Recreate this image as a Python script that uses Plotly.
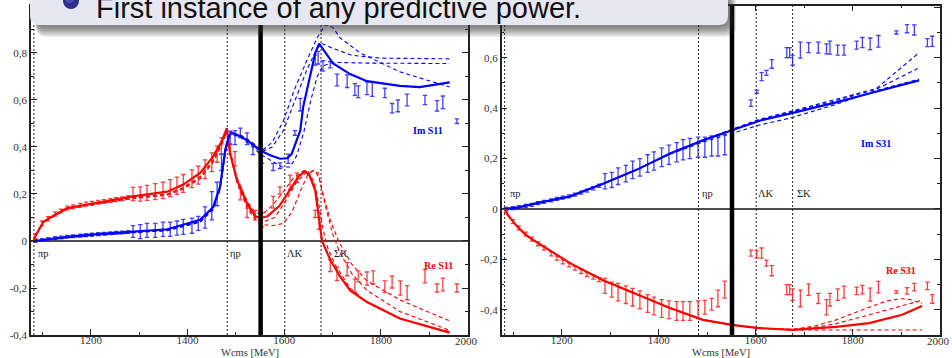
import plotly.graph_objects as go

W_FIG, H_FIG = 952, 358
X_RANGE = [1076, 1980]
Y_RANGE_S11 = [-0.4, 1.002]
Y_RANGE_S31 = [-0.5, 0.807]

THRESH_W = [1082, 1482, 1601, 1676]
THRESH_LABELS = ["πp", "ηp", "ΛK", "ΣK"]
MARK_W = 1551

X_TICKS = [1200, 1400, 1600, 1800]
X_TICKTEXT = ["1200", "1400", "1600", "1800"]
X_MINOR = [1100, 1300, 1500, 1700, 1900]
Y11_TICKS = [-0.4, -0.2, 0, 0.2, 0.4, 0.6, 0.8, 1.0]
Y11_TICKTEXT = ["-0,4", "-0,2", "0", "0,2", "0,4", "0,6", "0,8", "1"]
Y11_MINOR = [-0.3, -0.1, 0.1, 0.3, 0.5, 0.7, 0.9]
Y31_TICKS = [-0.4, -0.2, 0, 0.2, 0.4, 0.6, 0.8]
Y31_TICKTEXT = ["-0,4", "-0,2", "0", "0,2", "0,4", "0,6", ""]
Y31_MINOR = [-0.3, -0.1, 0.1, 0.3, 0.5, 0.7]

# ---------------- S11 : Re ----------------
re11_fit_w = [1082, 1101, 1116, 1151, 1219, 1287, 1358, 1391, 1426, 1453, 1472, 1481, 1488, 1502, 1523, 1540,
              1550, 1565, 1590, 1612, 1630, 1643, 1652, 1664, 1674, 1678, 1695, 1715, 1736, 1771, 1839, 1907, 1942]
re11_fit_v = [0.01, 0.08, 0.10, 0.14, 0.165, 0.19, 0.21, 0.24, 0.29, 0.36, 0.43, 0.48, 0.37, 0.26, 0.16, 0.105,
              0.097, 0.105, 0.15, 0.216, 0.275, 0.297, 0.28, 0.216, 0.076, 0.0, -0.08, -0.15, -0.21, -0.26, -0.33, -0.37, -0.39]

re11_dA_w = [1082, 1101, 1116, 1151, 1219, 1287, 1358, 1391, 1426, 1453, 1472, 1481, 1488, 1502, 1523, 1540, 1555,
             1575, 1598, 1620, 1640, 1650, 1662, 1672, 1680, 1690, 1705, 1736, 1771, 1839, 1907, 1942]
re11_dA_v = [0.01, 0.078, 0.098, 0.137, 0.162, 0.183, 0.198, 0.225, 0.27, 0.34, 0.42, 0.47, 0.38, 0.27, 0.17, 0.12, 0.115,
             0.15, 0.21, 0.27, 0.30, 0.295, 0.25, 0.15, 0.05, -0.03, -0.10, -0.20, -0.26, -0.33, -0.37, -0.385]
re11_dB_w = [1082, 1101, 1116, 1151, 1219, 1287, 1358, 1391, 1426, 1453, 1472, 1481, 1488, 1502, 1523, 1540, 1555,
             1575, 1598, 1615, 1635, 1648, 1660, 1670, 1680, 1695, 1712, 1740, 1771, 1839, 1907, 1942]
re11_dB_v = [0.01, 0.078, 0.097, 0.136, 0.16, 0.18, 0.195, 0.22, 0.265, 0.335, 0.415, 0.465, 0.37, 0.25, 0.14, 0.09, 0.07,
             0.065, 0.075, 0.12, 0.22, 0.28, 0.30, 0.29, 0.20, 0.09, 0.0, -0.10, -0.17, -0.25, -0.31, -0.34]
re11_dC_w = [1082, 1101, 1116, 1151, 1219, 1287, 1358, 1391, 1426, 1453, 1472, 1481, 1488, 1502, 1523, 1540, 1555,
             1580, 1600, 1625, 1645, 1662, 1672, 1685, 1700, 1715, 1740, 1771, 1839, 1907, 1942]
re11_dC_v = [0.01, 0.079, 0.099, 0.138, 0.163, 0.185, 0.2, 0.228, 0.275, 0.345, 0.425, 0.472, 0.375, 0.26, 0.15, 0.1, 0.08,
             0.10, 0.16, 0.25, 0.29, 0.30, 0.27, 0.15, 0.03, -0.05, -0.14, -0.21, -0.30, -0.355, -0.38]

re11_dat_w = [1085, 1099, 1111, 1126, 1138, 1151, 1163, 1178, 1190, 1202, 1215, 1227, 1240, 1252, 1265, 1277,
              1287, 1302, 1316, 1333, 1349, 1364, 1378, 1391, 1409, 1422, 1436, 1450, 1461, 1470, 1488,
              1498, 1509, 1523, 1540, 1554, 1577, 1591, 1612, 1626, 1664, 1672,
              1695, 1709, 1730, 1746, 1753, 1771, 1784, 1808, 1823, 1840, 1854, 1891, 1916, 1928, 1957]
re11_dat_v = [0.02, 0.075, 0.095, 0.115, 0.128, 0.14, 0.146, 0.152, 0.157, 0.16, 0.165, 0.168, 0.172, 0.176, 0.18, 0.185,
              0.20, 0.20, 0.205, 0.21, 0.215, 0.225, 0.235, 0.245, 0.265, 0.28, 0.305, 0.335, 0.37, 0.405, 0.39,
              0.35, 0.2, 0.12, 0.11, 0.09, 0.165, 0.215, 0.25, 0.27, 0.115, 0.075,
              -0.105, -0.14, -0.12, -0.19, -0.15, -0.16, -0.155, -0.195, -0.175, -0.2, -0.22, -0.15, -0.2, -0.185, -0.2]
re11_dat_e = [0.01, 0.01, 0.009, 0.009, 0.008, 0.008, 0.008, 0.008, 0.008, 0.008, 0.008, 0.008, 0.008, 0.008, 0.008, 0.008,
              0.028, 0.03, 0.032, 0.034, 0.035, 0.036, 0.037, 0.038, 0.038, 0.038, 0.04, 0.04, 0.035, 0.035, 0.02,
              0.03, 0.025, 0.02, 0.02, 0.03, 0.025, 0.015, 0.03, 0.02, 0.015, 0.025,
              0.025, 0.028, 0.028, 0.028, 0.023, 0.028, 0.028, 0.025, 0.025, 0.03, 0.03, 0.028, 0.017, 0.027, 0.017]

# ---------------- S11 : Im ----------------
im11_fit_w = [1082, 1120, 1160, 1220, 1287, 1358, 1426, 1453, 1467, 1478, 1486, 1491, 1510, 1529, 1550, 1571, 1591,
              1606, 1615, 1626, 1633, 1639, 1653, 1664, 1672, 1688, 1701, 1736, 1771, 1839, 1880, 1942]
im11_fit_v = [0.0, 0.01, 0.02, 0.03, 0.04, 0.05, 0.09, 0.145, 0.23, 0.39, 0.45, 0.46, 0.445, 0.42, 0.385, 0.365, 0.35,
              0.352, 0.37, 0.43, 0.47, 0.57, 0.695, 0.8, 0.84, 0.79, 0.755, 0.71, 0.68, 0.66, 0.655, 0.675]

im11_d1_w = [1082, 1160, 1287, 1358, 1426, 1453, 1467, 1478, 1486, 1491, 1510, 1529, 1554, 1575, 1598, 1620, 1647,
             1668, 1685, 1700, 1715, 1757, 1839, 1942]
im11_d1_v = [0.0, 0.018, 0.037, 0.046, 0.085, 0.14, 0.225, 0.385, 0.447, 0.46, 0.45, 0.427, 0.385, 0.42, 0.51, 0.64, 0.77,
             0.865, 0.92, 0.91, 0.865, 0.80, 0.72, 0.655]
im11_d2_w = [1082, 1160, 1287, 1358, 1426, 1453, 1467, 1478, 1486, 1491, 1510, 1529, 1554, 1575, 1598, 1620, 1647,
             1668, 1678, 1700, 1740, 1800, 1942]
im11_d2_v = [0.0, 0.017, 0.036, 0.045, 0.083, 0.137, 0.222, 0.38, 0.445, 0.458, 0.448, 0.422, 0.38, 0.40, 0.47, 0.59, 0.73,
             0.82, 0.84, 0.82, 0.79, 0.778, 0.775]
im11_d3_w = [1082, 1160, 1287, 1358, 1426, 1453, 1467, 1478, 1486, 1491, 1510, 1529, 1550, 1575, 1595, 1612, 1625,
             1640, 1655, 1668, 1680, 1700, 1771, 1942]
im11_d3_v = [0.0, 0.016, 0.035, 0.044, 0.08, 0.133, 0.218, 0.375, 0.44, 0.455, 0.44, 0.41, 0.37, 0.34, 0.315, 0.315, 0.36,
             0.46, 0.60, 0.70, 0.745, 0.76, 0.757, 0.755]

im11_dat_w = [1085, 1099, 1111, 1126, 1138, 1151, 1163, 1178, 1190, 1202, 1215, 1227, 1240, 1252, 1265, 1277,
              1287, 1302, 1316, 1333, 1349, 1364, 1378, 1391, 1409, 1422, 1436, 1450, 1461, 1470,
              1488, 1498, 1509, 1523, 1535, 1554, 1577, 1591, 1608, 1622, 1633, 1664, 1670, 1680, 1695,
              1709, 1730, 1746, 1753, 1771, 1782, 1808, 1823, 1835, 1854, 1891, 1916, 1928, 1957]
im11_dat_v = [0.0, 0.004, 0.008, 0.012, 0.015, 0.018, 0.02, 0.023, 0.025, 0.027, 0.029, 0.031, 0.033, 0.035, 0.036, 0.038,
              0.04, 0.04, 0.045, 0.045, 0.05, 0.05, 0.055, 0.06, 0.065, 0.075, 0.10, 0.15, 0.20, 0.335,
              0.44, 0.44, 0.46, 0.435, 0.39, 0.36, 0.315, 0.32, 0.35, 0.46, 0.58, 0.77, 0.78, 0.745, 0.75,
              0.685, 0.68, 0.645, 0.635, 0.65, 0.645, 0.63, 0.565, 0.575, 0.60, 0.60, 0.575, 0.59, 0.51]
im11_dat_e = [0.006, 0.006, 0.006, 0.006, 0.006, 0.006, 0.006, 0.006, 0.006, 0.006, 0.006, 0.006, 0.006, 0.006, 0.006, 0.006,
              0.025, 0.03, 0.03, 0.03, 0.03, 0.03, 0.03, 0.032, 0.032, 0.03, 0.045, 0.06, 0.05, 0.035,
              0.027, 0.03, 0.02, 0.025, 0.022, 0.03, 0.015, 0.012, 0.02, 0.01, 0.027, 0.022, 0.027, 0.022, 0.013,
              0.025, 0.027, 0.025, 0.025, 0.027, 0.03, 0.02, 0.02, 0.025, 0.025, 0.02, 0.022, 0.027, 0.01]

# ---------------- S31 : Im ----------------
im31_fit_w = [1083, 1110, 1149, 1217, 1285, 1355, 1423, 1491, 1551, 1594, 1608, 1670, 1766, 1834, 1937]
im31_fit_v = [0.0, 0.006, 0.023, 0.05, 0.10, 0.156, 0.22, 0.272, 0.312, 0.34, 0.35, 0.378, 0.423, 0.458, 0.51]
im31_d1_w = [1083, 1110, 1149, 1217, 1285, 1355, 1423, 1491, 1551, 1594, 1608, 1670, 1766, 1849, 1937]
im31_d1_v = [0.0, 0.006, 0.023, 0.05, 0.10, 0.156, 0.22, 0.274, 0.316, 0.345, 0.356, 0.386, 0.435, 0.478, 0.62]
im31_d2_w = [1083, 1110, 1149, 1217, 1285, 1355, 1423, 1491, 1551, 1594, 1608, 1670, 1766, 1849, 1937]
im31_d2_v = [0.0, 0.006, 0.023, 0.05, 0.10, 0.156, 0.22, 0.273, 0.314, 0.343, 0.353, 0.383, 0.43, 0.475, 0.56]
im31_d3_w = [1083, 1110, 1149, 1217, 1285, 1355, 1423, 1491, 1551, 1594, 1608, 1670, 1766, 1849, 1937]
im31_d3_v = [0.0, 0.006, 0.023, 0.05, 0.10, 0.155, 0.217, 0.265, 0.30, 0.325, 0.333, 0.36, 0.415, 0.47, 0.515]

im31_dat_w = [1085, 1099, 1111, 1126, 1138, 1151, 1163, 1178, 1190, 1202, 1215, 1227, 1240, 1252, 1265, 1277,
              1289, 1303, 1316, 1332, 1346, 1361, 1377, 1390, 1406, 1421, 1437, 1450, 1464, 1481, 1495, 1509, 1522, 1536, 1551,
              1590, 1602, 1612, 1622, 1633, 1664, 1670, 1676, 1692, 1709, 1729, 1746, 1753, 1769, 1782,
              1808, 1820, 1836, 1853, 1890, 1912, 1927, 1954, 1964]
im31_dat_v = [0.0, 0.003, 0.007, 0.012, 0.016, 0.023, 0.028, 0.034, 0.04, 0.045, 0.05, 0.057, 0.065, 0.073, 0.082, 0.092,
              0.11, 0.115, 0.13, 0.14, 0.155, 0.165, 0.18, 0.19, 0.205, 0.215, 0.225, 0.235, 0.24, 0.245, 0.245, 0.25, 0.25, 0.255, 0.29,
              0.42, 0.465, 0.525, 0.54, 0.575, 0.62, 0.62, 0.59, 0.63, 0.64, 0.64, 0.635, 0.64, 0.63, 0.63,
              0.65, 0.66, 0.655, 0.665, 0.70, 0.715, 0.71, 0.66, 0.665]
im31_dat_e = [0.006, 0.006, 0.006, 0.006, 0.006, 0.006, 0.006, 0.006, 0.006, 0.006, 0.006, 0.006, 0.006, 0.006, 0.006, 0.006,
              0.03, 0.03, 0.033, 0.033, 0.035, 0.035, 0.035, 0.036, 0.037, 0.038, 0.038, 0.04, 0.04, 0.04, 0.04, 0.04, 0.04, 0.04, 0.05,
              0.013, 0.006, 0.016, 0.01, 0.017, 0.02, 0.02, 0.02, 0.032, 0.02, 0.022, 0.02, 0.026, 0.02, 0.02,
              0.016, 0.02, 0.023, 0.023, 0.006, 0.016, 0.02, 0.016, 0.02]

# ---------------- S31 : Re ----------------
re31_fit_w = [1083, 1087, 1108, 1124, 1135, 1217, 1285, 1355, 1423, 1491, 1551, 1602, 1676, 1766, 1834, 1902, 1943]
re31_fit_v = [0.0, -0.02, -0.07, -0.10, -0.116, -0.215, -0.283, -0.34, -0.393, -0.44, -0.46, -0.472, -0.48, -0.468,
              -0.453, -0.42, -0.385]
re31_d1_w = [1083, 1087, 1108, 1124, 1135, 1217, 1285, 1355, 1423, 1491, 1551, 1602, 1676, 1720, 1766, 1834, 1870, 1900, 1920, 1943]
re31_d1_v = [0.0, -0.02, -0.07, -0.10, -0.116, -0.215, -0.283, -0.34, -0.393, -0.44, -0.46, -0.472, -0.478, -0.465,
             -0.44, -0.39, -0.365, -0.356, -0.36, -0.375]
re31_d2_w = [1083, 1087, 1108, 1124, 1135, 1217, 1285, 1355, 1423, 1491, 1551, 1602, 1676, 1720, 1766, 1834, 1900, 1943]
re31_d2_v = [0.0, -0.02, -0.07, -0.10, -0.116, -0.215, -0.283, -0.34, -0.393, -0.44, -0.46, -0.472, -0.478, -0.47,
             -0.455, -0.42, -0.385, -0.362]
re31_d3_w = [1083, 1087, 1108, 1124, 1135, 1217, 1285, 1355, 1423, 1491, 1551, 1602, 1676, 1766, 1943]
re31_d3_v = [0.0, -0.02, -0.07, -0.10, -0.116, -0.215, -0.283, -0.34, -0.393, -0.44, -0.46, -0.472, -0.48, -0.48, -0.48]

re31_dat_w = im31_dat_w
re31_dat_v = [-0.005, -0.05, -0.075, -0.10, -0.12, -0.138, -0.155, -0.178, -0.195, -0.21, -0.222, -0.235, -0.248, -0.26, -0.27, -0.28,
              -0.305, -0.32, -0.33, -0.34, -0.35, -0.36, -0.375, -0.385, -0.395, -0.40, -0.405, -0.405, -0.405, -0.40,
              -0.39, -0.378, -0.355, -0.32, -0.28,
              -0.175, -0.18, -0.175, -0.215, -0.245, -0.32, -0.32, -0.34, -0.355, -0.32, -0.355, -0.39, -0.36, -0.34, -0.33,
              -0.325, -0.32, -0.34, -0.31, -0.33, -0.325, -0.31, -0.305, -0.357]
re31_dat_e = [0.008, 0.008, 0.008, 0.008, 0.008, 0.008, 0.008, 0.008, 0.008, 0.008, 0.008, 0.008, 0.008, 0.008, 0.008, 0.008,
              0.03, 0.03, 0.035, 0.035, 0.035, 0.035, 0.035, 0.035, 0.035, 0.035, 0.037, 0.037, 0.037, 0.035,
              0.027, 0.023, 0.033, 0.034, 0.034,
              0.012, 0.014, 0.02, 0.012, 0.02, 0.02, 0.02, 0.023, 0.033, 0.023, 0.02, 0.03, 0.025, 0.023, 0.024,
              0.015, 0.017, 0.026, 0.023, 0.005, 0.013, 0.015, 0.015, 0.017]

RED = "#ff0000"
BLUE = "#0000ff"
SERIF = "Liberation Serif, Times New Roman, serif"

fig = go.Figure()


def curve(w, v, color, xa, ya, dashed=False):
    fig.add_trace(go.Scatter(
        x=w, y=v, mode="lines", xaxis=xa, yaxis=ya, showlegend=False, hoverinfo="skip",
        line=dict(color=color, width=1.1 if dashed else 2.2, dash="4px,3px" if dashed else "solid")))


def points(w, v, e, color, xa, ya):
    fig.add_trace(go.Scatter(
        x=w, y=v, mode="markers", xaxis=xa, yaxis=ya, showlegend=False, hoverinfo="skip",
        marker=dict(size=0, color=color, opacity=0),
        error_y=dict(type="data", array=e, color=color, thickness=1.3, width=2.2)))


for w, v in [(re11_dA_w, re11_dA_v), (re11_dB_w, re11_dB_v), (re11_dC_w, re11_dC_v)]:
    curve(w, v, RED, "x", "y", True)
for w, v in [(im11_d1_w, im11_d1_v), (im11_d2_w, im11_d2_v), (im11_d3_w, im11_d3_v)]:
    curve(w, v, BLUE, "x", "y", True)
points(re11_dat_w, re11_dat_v, re11_dat_e, "rgba(255,30,30,0.85)", "x", "y")
points(im11_dat_w, im11_dat_v, im11_dat_e, "rgba(30,30,255,0.85)", "x", "y")
curve(re11_fit_w, re11_fit_v, RED, "x", "y")
curve(im11_fit_w, im11_fit_v, BLUE, "x", "y")

for w, v in [(im31_d1_w, im31_d1_v), (im31_d2_w, im31_d2_v), (im31_d3_w, im31_d3_v)]:
    curve(w, v, BLUE, "x2", "y2", True)
for w, v in [(re31_d1_w, re31_d1_v), (re31_d2_w, re31_d2_v), (re31_d3_w, re31_d3_v)]:
    curve(w, v, RED, "x2", "y2", True)
points(im31_dat_w, im31_dat_v, im31_dat_e, "rgba(30,30,255,0.85)", "x2", "y2")
points(re31_dat_w, re31_dat_v, re31_dat_e, "rgba(255,30,30,0.85)", "x2", "y2")
curve(im31_fit_w, im31_fit_v, BLUE, "x2", "y2")
curve(re31_fit_w, re31_fit_v, RED, "x2", "y2")


def PX(px):
    return px / W_FIG


def PY(py):
    return 1 - py / H_FIG


Y_DOM = [PY(335), PY(5.5)]
tickfont = dict(family=SERIF, size=11, color="#333")


def xaxis_cfg(dom, anchor):
    return dict(domain=dom, anchor=anchor, range=X_RANGE, tickvals=X_TICKS, ticktext=X_TICKTEXT,
                ticks="inside", ticklen=6, tickwidth=1, tickcolor="#222", showline=True, linecolor="#222",
                linewidth=1.5, mirror="ticks", showgrid=False, zeroline=False, tickfont=tickfont,
                ticklabelstandoff=-6,
                automargin=False, minor=dict(tickvals=X_MINOR, ticks="inside", ticklen=3, tickcolor="#222"))


def yaxis_cfg(rng, tv, tt, mn, anchor):
    return dict(domain=Y_DOM, anchor=anchor, range=rng, tickvals=tv, ticktext=tt,
                ticks="inside", ticklen=6, tickwidth=1, tickcolor="#222", showline=True, linecolor="#222",
                linewidth=1.5, mirror="ticks", showgrid=False, zeroline=False, tickfont=tickfont,
                automargin=False, minor=dict(tickvals=mn, ticks="inside", ticklen=3, tickcolor="#222"))


shapes = []
annotations = []
for xa, ya, yr in [("x", "y", Y_RANGE_S11), ("x2", "y2", Y_RANGE_S31)]:
    for t in THRESH_W:
        shapes.append(dict(type="line", xref=xa, yref=ya + " domain", x0=t, x1=t, y0=0, y1=1, layer="below",
                           line=dict(color="#222", width=1, dash="2px,2px")))
    shapes.append(dict(type="line", xref=xa + " domain", yref=ya, x0=0, x1=1, y0=0, y1=0, layer="below",
                       line=dict(color="#111", width=1.5)))

for xa, ya in [("x", "y"), ("x2", "y2")]:
    shapes.append(dict(type="line", xref=xa, yref=ya + " domain", x0=MARK_W, x1=MARK_W, y0=0, y1=1,
                       layer="above", line=dict(color="#000", width=4.5)))

# threshold labels
left_shift = [3, 2, 1, 12]
right_shift = [4, 2, 1, 3]
for t, lab, sh in zip(THRESH_W, THRESH_LABELS, left_shift):
    annotations.append(dict(x=t, y=-0.055, xref="x", yref="y", text=lab, showarrow=False, xanchor="left",
                            yanchor="middle", xshift=sh - 1, font=dict(family=SERIF, size=10.5, color="#222")))
for t, lab, sh in zip(THRESH_W, THRESH_LABELS, right_shift):
    annotations.append(dict(x=t, y=0.062, xref="x2", yref="y2", text=lab, showarrow=False, xanchor="left",
                            yanchor="middle", xshift=sh - 1, font=dict(family=SERIF, size=10.5, color="#222")))

# series labels
for x, y, xa, ya, txt, col in [(1897, 0.47, "x", "y", "Im S11", BLUE), (1918, -0.106, "x", "y", "Re S11", RED),
                               (1847, 0.26, "x2", "y2", "Im S31", BLUE), (1899, -0.243, "x2", "y2", "Re S31", RED)]:
    annotations.append(dict(x=x, y=y, xref=xa, yref=ya, text="<b>" + txt + "</b>", showarrow=False,
                            xanchor="center", yanchor="middle",
                            font=dict(family=SERIF, size=10, color=col)))

# 2000 label at right end and axis titles
for xa in ["x", "x2"]:
    annotations.append(dict(x=X_RANGE[1], y=PY(341), xref=xa, yref="paper", text="2000", showarrow=False,
                            xanchor="center", yanchor="middle", xshift=-2, font=tickfont))
    annotations.append(dict(x=0.5, y=PY(352), xref=xa + " domain", yref="paper", text="Wcms [MeV]",
                            xanchor="center", yanchor="middle",
                            showarrow=False, font=dict(family=SERIF, size=10.5, color="#333")))


# callout box
def rrect(x0, y0, x1, y1, r):
    return (f"M {PX(x0 + r)},{PY(y0)} L {PX(x1 - r)},{PY(y0)} Q {PX(x1)},{PY(y0)} {PX(x1)},{PY(y0 + r)} "
            f"L {PX(x1)},{PY(y1 - r)} Q {PX(x1)},{PY(y1)} {PX(x1 - r)},{PY(y1)} "
            f"L {PX(x0 + r)},{PY(y1)} Q {PX(x0)},{PY(y1)} {PX(x0)},{PY(y1 - r)} "
            f"L {PX(x0)},{PY(y0 + r)} Q {PX(x0)},{PY(y0)} {PX(x0 + r)},{PY(y0)} Z")


BX0, BY0, BX1, BY1 = 30, -40, 728, 25
for k in range(8):
    shapes.append(dict(type="path", xref="paper", yref="paper", layer="above",
                       path=rrect(BX0 + 6, BY0, BX1 + 1 + k * 1.0, BY1 + 2 + k * 1.4, 10),
                       fillcolor="rgba(50,50,50,0.10)", line=dict(width=0)))
shapes.append(dict(type="path", xref="paper", yref="paper", layer="above", path=rrect(BX0, BY0, BX1, BY1, 9),
                   fillcolor="#e7e7f1", line=dict(width=0)))
# bullet ball
shapes.append(dict(type="circle", xref="paper", yref="paper", layer="above",
                   x0=PX(63), x1=PX(79), y0=PY(9), y1=PY(-7), fillcolor="#2e2e8a", line=dict(width=0)))
shapes.append(dict(type="circle", xref="paper", yref="paper", layer="above",
                   x0=PX(65), x1=PX(74), y0=PY(3), y1=PY(-6), fillcolor="#4b4bb0", line=dict(width=0)))
annotations.append(dict(x=PX(94), y=PY(8), xref="paper", yref="paper", xanchor="left", yanchor="middle",
                        text="First instance of any predictive power.", showarrow=False,
                        font=dict(family="Liberation Sans, Arial, sans-serif", size=29, color="#111")))

fig.update_layout(
    width=W_FIG, height=H_FIG, margin=dict(l=0, r=0, t=0, b=0),
    paper_bgcolor="white", plot_bgcolor="white", showlegend=False,
    xaxis=xaxis_cfg([PX(31), PX(468)], "y"),
    yaxis=yaxis_cfg(Y_RANGE_S11, Y11_TICKS, Y11_TICKTEXT, Y11_MINOR, "x"),
    xaxis2=xaxis_cfg([PX(501.7), PX(940)], "y2"),
    yaxis2=yaxis_cfg(Y_RANGE_S31, Y31_TICKS, Y31_TICKTEXT, Y31_MINOR, "x2"),
    shapes=shapes, annotations=annotations,
)

fig.write_html("out.html")
